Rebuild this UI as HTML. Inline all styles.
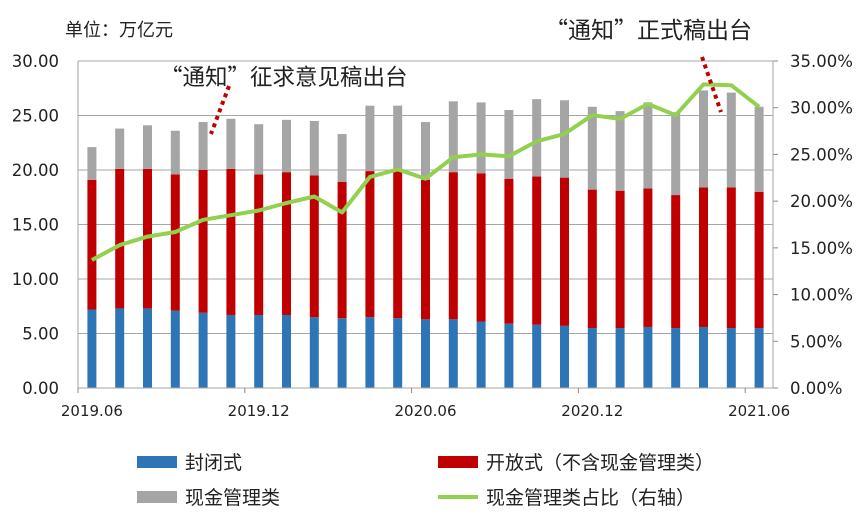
<!DOCTYPE html>
<html><head><meta charset="utf-8"><style>
body{margin:0;background:#fff;}
svg text{font-family:"DejaVu Sans","Noto Sans CJK SC",sans-serif;fill:#222;}
svg text.cjk{font-family:"Noto Sans CJK SC","WenQuanYi Zen Hei",sans-serif;}
</style></head><body>
<svg width="865" height="522" xmlns="http://www.w3.org/2000/svg">
<g id="grid"></g><g id="bars"></g><g id="line"></g><g id="axes"></g>
<text class="cjk" x="65" y="36" font-size="18">单位：万亿元</text>
<text class="cjk" x="545" y="38" font-size="23">“通知”正式稿出台</text>
<text class="cjk" x="160" y="85" font-size="22.5">“通知”征求意见稿出台</text>
<line x1="229" y1="86" x2="211" y2="134" stroke="#c00000" stroke-width="4" stroke-dasharray="4,4"/>
<line x1="702" y1="57" x2="721" y2="112" stroke="#c00000" stroke-width="4" stroke-dasharray="4,4"/>
<g>
<rect x="137" y="456" width="40" height="12" fill="#2e75b6"/>
<text class="cjk" x="185" y="469" font-size="19">封闭式</text>
<rect x="438" y="456" width="40" height="12" fill="#c00000"/>
<text class="cjk" x="486" y="469" font-size="19">开放式（不含现金管理类）</text>
<rect x="137" y="491" width="40" height="12" fill="#a5a5a5"/>
<text class="cjk" x="185" y="504" font-size="19">现金管理类</text>
<line x1="438" y1="497" x2="478" y2="497" stroke="#92d050" stroke-width="4"/>
<text class="cjk" x="486" y="504" font-size="19">现金管理类占比（右轴）</text>
</g>
</svg>
<script>
const categories=["2019.06","2019.07","2019.08","2019.09","2019.10","2019.11","2019.12","2020.01","2020.02","2020.03","2020.04","2020.05","2020.06","2020.07","2020.08","2020.09","2020.10","2020.11","2020.12","2021.01","2021.02","2021.03","2021.04","2021.05","2021.06"];
const closedVals=[7.2,7.3,7.3,7.1,6.9,6.7,6.7,6.7,6.5,6.4,6.5,6.4,6.3,6.3,6.1,5.9,5.8,5.7,5.5,5.5,5.6,5.5,5.6,5.5,5.5];
const openVals=[11.9,12.8,12.8,12.5,13.1,13.4,12.9,13.1,13.0,12.5,13.4,13.5,12.8,13.5,13.6,13.3,13.6,13.6,12.7,12.6,12.7,12.2,12.8,12.9,12.5];
const cashVals=[3.0,3.7,4.0,4.0,4.4,4.6,4.6,4.8,5.0,4.4,6.0,6.0,5.3,6.5,6.5,6.3,7.1,7.1,7.6,7.3,7.9,7.6,8.9,8.7,7.8];
const ratioVals=[13.7,15.3,16.2,16.7,18.0,18.5,19.0,19.8,20.5,18.8,22.6,23.4,22.4,24.7,25.0,24.8,26.4,27.2,29.2,28.8,30.4,29.2,32.5,32.4,30.1];
const leftTicks=["0.00","5.00","10.00","15.00","20.00","25.00","30.00"];
const rightTicks=["0.00%","5.00%","10.00%","15.00%","20.00%","25.00%","30.00%","35.00%"];
const xLabelIdx=[0,6,12,18,24];
const NS="http://www.w3.org/2000/svg";
const X0=78,X1=773,Y0=388,Y1=61;
const step=(X1-X0)/categories.length;
const xC=i=>X0+step*(i+0.5);
const yL=v=>Y0-(v/30)*(Y0-Y1);
const yR=v=>Y0-(v/35)*(Y0-Y1);
function mk(tag,attrs,parent){const e=document.createElementNS(NS,tag);for(const k in attrs)e.setAttribute(k,attrs[k]);document.getElementById(parent).appendChild(e);return e;}
leftTicks.forEach((t,i)=>{const v=i*5;
 if(v>0){const g=mk('line',{x1:X0,x2:X1,y1:yL(v),y2:yL(v),stroke:'#a6a6a6','stroke-width':1},'grid');
 
 }
 const tx=mk('text',{x:X0-19,y:yL(v)+6,'font-size':16.5,'text-anchor':'end'},'axes');tx.textContent=t;
 
 
});
rightTicks.forEach((t,i)=>{const v=i*5;
 const tk=mk('line',{x1:X1,x2:X1+5,y1:yR(v),y2:yR(v),stroke:'#888'},'axes');
 
 
 const tx=mk('text',{x:X1+17,y:yR(v)+6,'font-size':16.5},'axes');tx.textContent=t;
 
 
});
categories.forEach((c,i)=>{const w=9,x=xC(i)-w/2;
 const a=closedVals[i],b=a+openVals[i],t=b+cashVals[i];
 [[0,a,'#2e75b6','bar-closed'],[a,b,'#c00000','bar-open'],[b,t,'#a5a5a5','bar-cash']].forEach(s=>{
  const r=mk('rect',{x:x,y:yL(s[1]),width:w,height:yL(s[0])-yL(s[1]),fill:s[2]},'bars');
  
  
 });
});
const pts=ratioVals.map((v,i)=>xC(i).toFixed(1)+','+yR(v).toFixed(1)).join(' ');
const pl=mk('polyline',{points:pts,fill:'none',stroke:'#92d050','stroke-width':4,'stroke-linejoin':'round'},'line');


[[X0,Y1,X0,Y0],[X1,Y1,X1,Y0],[X0,Y0,X1,Y0],[X0,Y1,X1,Y1]].forEach(l=>{
 const e=mk('line',{x1:l[0],y1:l[1],x2:l[2],y2:l[3],stroke:'#a6a6a6'},'axes');
 
 
});
xLabelIdx.forEach(i=>{
 const tk=mk('line',{x1:X0+step*i,x2:X0+step*i,y1:Y0,y2:Y0+5,stroke:'#888'},'axes');
 
 
 const tx=mk('text',{x:xC(i),y:Y0+28,'font-size':15,'text-anchor':'middle'},'axes');tx.textContent=categories[i];
 
 
});
</script>
</body></html>
